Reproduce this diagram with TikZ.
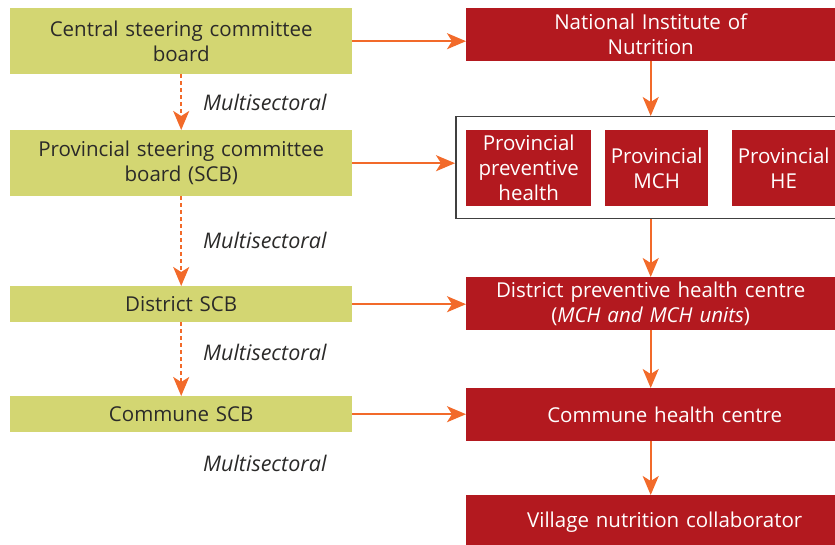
\documentclass[tikz,border=0pt]{standalone}
\usepackage{fontspec}
\setmainfont{Open Sans}
\usetikzlibrary{positioning,arrows.meta}
\definecolor{scbgreen}{HTML}{D3D672}
\definecolor{hred}{HTML}{B3191F}
\definecolor{arrorange}{HTML}{F26A2A}
\definecolor{darktext}{HTML}{2B2A29}

\begin{document}
\begin{tikzpicture}[x=1pt,y=-1pt,
			scb/.style={fill=scbgreen,anchor=north west,minimum width=342pt,text width=336pt,align=center,inner sep=0pt,text=darktext,font=\fontsize{20.5}{25}\selectfont},
			hbox/.style={fill=hred,anchor=north west,minimum width=369pt,text width=366pt,align=center,inner sep=0pt,text=white,font=\fontsize{20.5}{25}\selectfont},
			subbox/.style={fill=hred,anchor=north west,minimum height=76pt,align=center,inner sep=0pt,text=white,font=\fontsize{20.5}{25}\selectfont},
			multi/.style={anchor=west,inner sep=0pt,text=darktext,font=\fontsize{21.5}{24}\selectfont\itshape},
			link/.style={draw=arrorange,line width=2pt,-{Stealth[length=19pt,width=16pt,inset=5pt]}},
			sector/.style={link,dash pattern=on 4pt off 3pt}]
			\useasboundingbox (0,0) rectangle (835,545);
			% left column
			\node (central) [scb,minimum height=66pt] at (10,8) {Central steering committee\\board};
			\node (prov) [scb,minimum height=66pt] at (10,130) {Provincial steering committee\\board (SCB)};
			\node (district) [scb,minimum height=36pt] at (10,286) {District SCB};
			\node (commune) [scb,minimum height=36pt] at (10,396) {Commune SCB};
			\node (multi1) [multi] at (203,102) {Multisectoral};
			\node (multi2) [multi] at (203,240) {Multisectoral};
			\node (multi3) [multi] at (203,352) {Multisectoral};
			\node (multi4) [multi] at (203,463) {Multisectoral};
			% right column
			\node (nin) [hbox,minimum height=53pt] at (466,8) {National Institute of\\Nutrition};
			\node (provgroup) [draw=black!75,line width=1.5pt,anchor=north west,minimum width=382pt,minimum height=102pt,inner sep=0pt] at (455,116) {};
			\node (provph) [subbox,minimum width=125pt] at (466,130) {Provincial\\preventive\\health};
			\node (provmch) [subbox,minimum width=103pt] at (605,130) {Provincial\\MCH};
			\node (provhe) [subbox,minimum width=103pt] at (732,130) {Provincial\\HE};
			\node (dphc) [hbox,minimum height=53pt] at (466,277) {District preventive health centre\\(\textit{MCH and MCH units})};
			\node (chc) [hbox,minimum height=53pt] at (466,388) {\hspace*{28pt}Commune health centre};
			\node (vnc) [hbox,minimum height=53pt] at (466,495) {\hspace*{28pt}Village nutrition collaborator};
			% connectors
			\draw [sector] (central) -- (prov);
			\draw [sector] (prov) -- (district);
			\draw [sector] (district) -- (commune);
			\draw [link] (central.east) -- (central.east -| nin.west);
			\draw [link] (prov.east) -- (prov.east -| provgroup.west);
			\draw [link] (district.east) -- (district.east -| dphc.west);
			\draw [link] (commune.east) -- (commune.east -| chc.west);
			\draw [link] (nin.south) -- (nin.south |- provgroup.north);
			\draw [link] (nin.south |- provgroup.south) -- (dphc.north);
			\draw [link] (dphc) -- (chc);
			\draw [link] (chc) -- (vnc);
		\end{tikzpicture}
\end{document}
